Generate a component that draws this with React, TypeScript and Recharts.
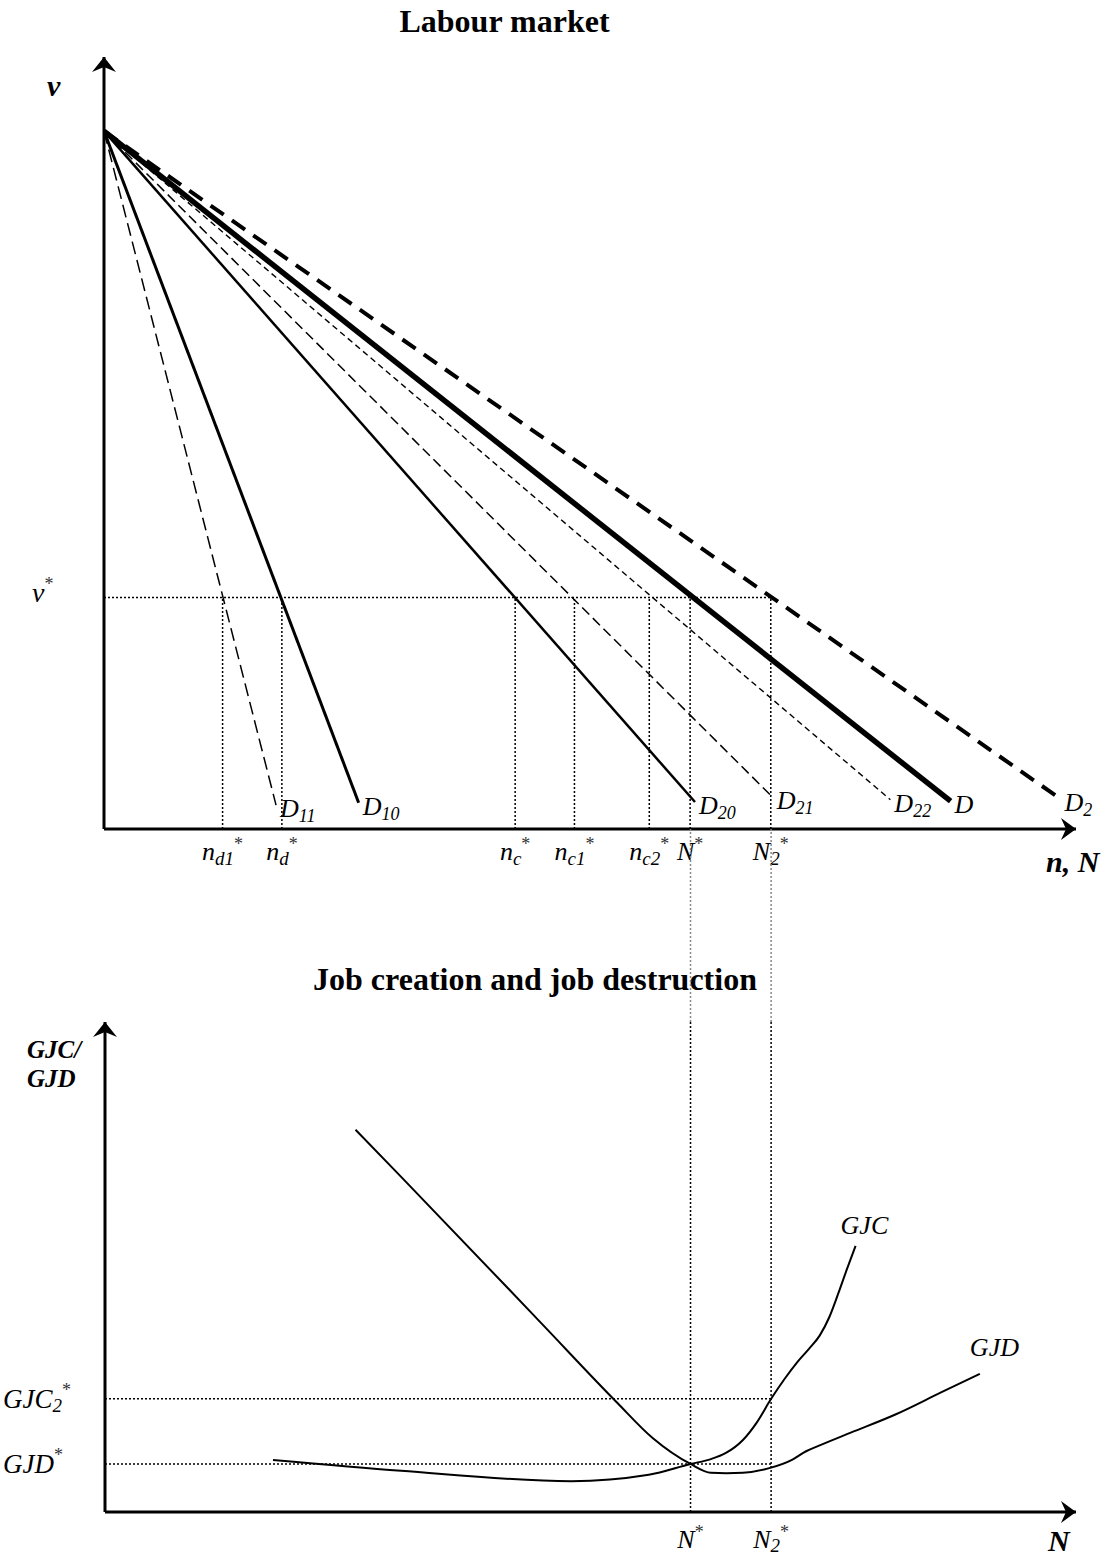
import React from "react";
import { ComposedChart, Line, XAxis, YAxis, ReferenceLine, ReferenceDot } from "recharts";

const FONT = "'Liberation Serif', 'Times New Roman', Times, serif";

// Labour market: n, N on the x axis (0..100), v on the y axis (0..100)
const vIntercept = 90.4;
const vStar = 30;

const demandMain = ["D", "D", "D", "D", "D", "D", "D"];
const demandSub = ["11", "10", "20", "21", "22", "", "2"];
const demandEndN = [17.7, 26.2, 60.8, 68.8, 80.9, 87.1, 98.4];
const demandEndV = [3.1, 3.4, 3.5, 4.1, 3.8, 3.6, 3.9];

const nTicks = [12.2, 18.3, 42.3, 48.4, 56.1, 60.3, 68.6];
const nTickMain = ["n", "n", "n", "n", "n", "N", "N"];
const nTickSub = ["d1", "d", "c", "c1", "c2", "", "2"];

const nStar = 60.3;
const n2Star = 68.6;

// Job creation / job destruction: N (0..100), GJC/GJD (0..100)
const gjdStar = 9.8;
const gjc2Star = 23.1;

const gjcN = [17.3, 30.5, 48.0, 56.0, 60.3, 62.4, 63.9, 65.7, 67.1, 68.6, 70.0, 71.3, 72.5, 73.6, 74.6, 75.5, 76.4, 77.3];
const gjcG = [10.6, 8.4, 6.3, 7.6, 9.8, 10.8, 12.0, 14.7, 18.2, 23.1, 27.2, 30.6, 33.3, 36.0, 39.8, 44.5, 49.5, 54.3];
const gjdN = [25.8, 30.5, 44.9, 52.7, 56.4, 60.3, 62.4, 64.0, 65.7, 68.5, 70.8, 72.2, 73.6, 76.8, 81.4, 86.1, 90.1];
const gjdG = [78.0, 68.4, 38.6, 22.4, 15.1, 9.8, 8.0, 7.9, 8.0, 9.0, 10.7, 12.4, 13.6, 16.2, 19.9, 24.4, 28.2];

const bottomTicks = [60.3, 68.6];
const bottomTickSub = ["", "2"];

// line looks for D11, D10, D20, D21, D22, D, D2
const demandWidth = [1.5, 3, 2.5, 1.5, 1.4, 5.5, 4];
const demandDash = ["13 6", undefined, undefined, "10 5", "6 4", undefined, "16 10"];

const demandData = demandEndN.map((n, i) => [
  { n: 0, v: vIntercept },
  { n, v: demandEndV[i] },
]);
const gjcData = gjcN.map((n, i) => ({ n, g: gjcG[i] }));
const gjdData = gjdN.map((n, i) => ({ n, g: gjdG[i] }));

const dotted = { stroke: "#000", strokeWidth: 1.5, strokeDasharray: "2 2" };

const arrowRight = (p: any) => (
  <path
    d={`M${p.cx},${p.cy} L${p.cx - 15},${p.cy - 11} L${p.cx - 10},${p.cy} L${p.cx - 15},${p.cy + 11} Z`}
    fill="#000"
  />
);
const arrowUp = (p: any) => (
  <path
    d={`M${p.cx},${p.cy} L${p.cx - 12},${p.cy + 15} L${p.cx},${p.cy + 10} L${p.cx + 12},${p.cy + 15} Z`}
    fill="#000"
  />
);

function Star({ dy }: { dy: number }) {
  return (
    <tspan fontSize={18} fontStyle="normal" fill="#333" dy={dy}>
      *
    </tspan>
  );
}

function TopTick(props: any) {
  const i = nTicks.indexOf(props.payload.value);
  if (i < 0) return <g />;
  const sub = nTickSub[i];
  return (
    <text x={props.x} y={860} textAnchor="middle" fontFamily={FONT} fontStyle="italic" fontSize={26} fill="#000">
      {nTickMain[i]}
      {sub ? (
        <tspan fontSize={19} dy={5}>
          {sub}
        </tspan>
      ) : null}
      <Star dy={sub ? -15 : -10} />
    </text>
  );
}

function BottomTick(props: any) {
  const i = bottomTicks.indexOf(props.payload.value);
  if (i < 0) return <g />;
  const sub = bottomTickSub[i];
  return (
    <text x={props.x} y={719} textAnchor="middle" fontFamily={FONT} fontStyle="italic" fontSize={26} fill="#000">
      N
      {sub ? (
        <tspan fontSize={19} dy={4}>
          {sub}
        </tspan>
      ) : null}
      <Star dy={sub ? -14 : -10} />
    </text>
  );
}

function VTick(props: any) {
  return (
    <text x={32} y={props.y + 5} fontFamily={FONT} fontStyle="italic" fontSize={28} fill="#000">
      v
      <Star dy={-12} />
    </text>
  );
}

function GTick(props: any) {
  const isGjc = props.payload.value === gjc2Star;
  return (
    <text x={3} y={props.y + 9} fontFamily={FONT} fontStyle="italic" fontSize={27} fill="#000">
      {isGjc ? "GJC" : "GJD"}
      {isGjc ? (
        <tspan fontSize={19} dy={4}>
          2
        </tspan>
      ) : null}
      <Star dy={isGjc ? -16 : -12} />
    </text>
  );
}

const demandLabel = (i: number) => (p: any) => {
  if (p.index !== 1) return <g key={`l${i}`} />;
  return (
    <text key={`l${i}`} x={p.x + 4} y={p.y + 12} fontFamily={FONT} fontStyle="italic" fontSize={26} fill="#000">
      {demandMain[i]}
      {demandSub[i] ? (
        <tspan fontSize={18} dy={5}>
          {demandSub[i]}
        </tspan>
      ) : null}
    </text>
  );
};

const endLabel = (text: string, last: number, dx: number, dy: number) => (p: any) => {
  if (p.index !== last) return <g key={`e${p.index}`} />;
  return (
    <text key="end" x={p.x + dx} y={p.y + dy} fontFamily={FONT} fontStyle="italic" fontSize={26} fill="#000">
      {text}
    </text>
  );
};

const titleStyle: React.CSSProperties = {
  position: "absolute",
  left: 0,
  fontFamily: FONT,
  fontWeight: "bold",
  fontSize: 32,
  lineHeight: "32px",
  textAlign: "center",
  whiteSpace: "nowrap",
};

function LabourMarket() {
  return (
    <ComposedChart width={1107} height={900} margin={{ top: 57, right: 31, left: 0, bottom: 0 }}>
      <XAxis
        type="number"
        dataKey="n"
        domain={[0, 100]}
        allowDataOverflow
        ticks={nTicks}
        interval={0}
        tick={(p: any) => <TopTick {...p} />}
        tickLine={false}
        axisLine={{ stroke: "#000", strokeWidth: 3 }}
        height={71}
        label={() => (
          <text x={1046} y={872} fontFamily={FONT} fontWeight="bold" fontStyle="italic" fontSize={30} fill="#000">
            n, N
          </text>
        )}
      />
      <YAxis
        type="number"
        domain={[0, 100]}
        allowDataOverflow
        ticks={[vStar]}
        interval={0}
        tick={(p: any) => <VTick {...p} />}
        tickLine={false}
        axisLine={{ stroke: "#000", strokeWidth: 3 }}
        width={104}
        label={() => (
          <text x={47} y={96} fontFamily={FONT} fontWeight="bold" fontStyle="italic" fontSize={30} fill="#000">
            v
          </text>
        )}
      />
      <ReferenceLine segment={[{ x: 0, y: vStar }, { x: n2Star, y: vStar }]} {...dotted} />
      {nTicks.map((n) => (
        <ReferenceLine key={n} segment={[{ x: n, y: 0 }, { x: n, y: vStar }]} {...dotted} />
      ))}
      {demandData.map((d, i) => (
        <Line
          key={i}
          data={d}
          dataKey="v"
          type="linear"
          stroke="#000"
          strokeWidth={demandWidth[i]}
          strokeDasharray={demandDash[i]}
          dot={false}
          activeDot={false}
          isAnimationActive={false}
          label={demandLabel(i)}
        />
      ))}
      <ReferenceDot x={100} y={0} r={0} shape={arrowRight} ifOverflow="visible" />
      <ReferenceDot x={0} y={100} r={0} shape={arrowUp} ifOverflow="visible" />
    </ComposedChart>
  );
}

function JobFlows() {
  return (
    <ComposedChart width={1107} height={729} margin={{ top: 193, right: 31, left: 0, bottom: 0 }}>
      <XAxis
        type="number"
        dataKey="n"
        domain={[0, 100]}
        allowDataOverflow
        ticks={bottomTicks}
        interval={0}
        tick={(p: any) => <BottomTick {...p} />}
        tickLine={false}
        axisLine={{ stroke: "#000", strokeWidth: 3 }}
        height={46}
        label={() => (
          <text x={1048} y={722} fontFamily={FONT} fontWeight="bold" fontStyle="italic" fontSize={30} fill="#000">
            N
          </text>
        )}
      />
      <YAxis
        type="number"
        domain={[0, 100]}
        allowDataOverflow
        ticks={[gjdStar, gjc2Star]}
        interval={0}
        tick={(p: any) => <GTick {...p} />}
        tickLine={false}
        axisLine={{ stroke: "#000", strokeWidth: 3 }}
        width={105}
        label={() => (
          <text x={27} fontFamily={FONT} fontWeight="bold" fontStyle="italic" fontSize={25} fill="#000">
            <tspan x={27} y={229}>GJC/</tspan>
            <tspan x={27} y={258}>GJD</tspan>
          </text>
        )}
      />
      <ReferenceLine segment={[{ x: 0, y: gjc2Star }, { x: n2Star, y: gjc2Star }]} {...dotted} />
      <ReferenceLine segment={[{ x: 0, y: gjdStar }, { x: n2Star, y: gjdStar }]} {...dotted} />
      {[nStar, n2Star].map((n) => (
        <ReferenceLine key={`a${n}`} segment={[{ x: n, y: 0 }, { x: n, y: 100 }]} {...dotted} />
      ))}
      {[nStar, n2Star].map((n) => (
        <ReferenceLine
          key={`b${n}`}
          segment={[{ x: n, y: 100 }, { x: n, y: 139.4 }]}
          ifOverflow="visible"
          stroke="#888"
          strokeWidth={1.5}
          strokeDasharray="2 2"
        />
      ))}
      <Line
        data={gjcData}
        dataKey="g"
        type="monotone"
        stroke="#000"
        strokeWidth={2}
        dot={false}
        activeDot={false}
        isAnimationActive={false}
        label={endLabel("GJC", gjcData.length - 1, -15, -12)}
      />
      <Line
        data={gjdData}
        dataKey="g"
        type="monotone"
        stroke="#000"
        strokeWidth={2}
        dot={false}
        activeDot={false}
        isAnimationActive={false}
        label={endLabel("GJD", gjdData.length - 1, -10, -18)}
      />
      <ReferenceDot x={100} y={0} r={0} shape={arrowRight} ifOverflow="visible" />
      <ReferenceDot x={0} y={100} r={0} shape={arrowUp} ifOverflow="visible" />
    </ComposedChart>
  );
}

export default function App() {
  return (
    <div style={{ position: "absolute", left: 0, top: 0, width: 1107, height: 1558, background: "#fff" }}>
      <div style={{ ...titleStyle, top: 5, width: 1009 }}>Labour market</div>
      <div style={{ position: "absolute", left: 0, top: 0 }}>
        <LabourMarket />
      </div>
      <div style={{ ...titleStyle, top: 963, width: 1070 }}>Job creation and job destruction</div>
      <div style={{ position: "absolute", left: 0, top: 829 }}>
        <JobFlows />
      </div>
    </div>
  );
}
